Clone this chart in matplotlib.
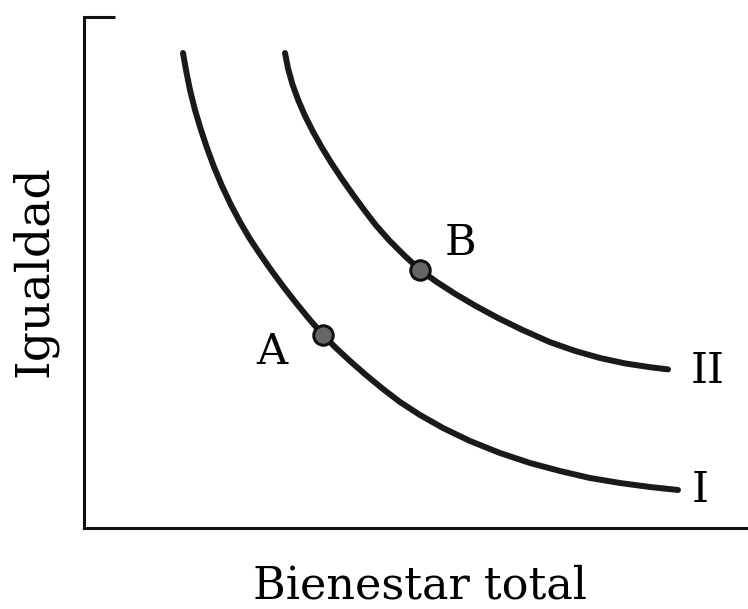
import numpy as np
import matplotlib.pyplot as plt

plt.rcParams['font.family'] = ['DejaVu Serif']

# values (plain units, x 0-664, y 0-511)
# curve I
x_I = [99, 102, 106, 111, 117, 123, 130, 138, 147, 156, 166, 176.6, 187.8, 199.6, 212.1,
       225.2, 239, 252, 266, 282, 299, 316, 336, 359, 386, 416, 446, 476, 506, 536, 566, 594]
y_I = [475, 458, 438, 418, 398, 380, 361, 342, 323, 306, 289, 273, 257, 241, 225,
       209, 193, 180, 167, 153, 139, 126, 113, 100, 87, 75, 65, 57, 50, 45, 41, 38]

# curve II
x_II = [201, 204.1, 208.5, 214.2, 221.0, 228.9, 237.7, 247.3, 257.7, 268.7, 280.2, 291.7, 304.9,
        319.9, 336, 352.8, 371.4, 391.8, 414, 438.6, 465.6, 491, 516, 541, 566, 584]
y_II = [475, 459.3, 443.6, 427.9, 412.2, 396.5, 380.8, 365.1, 349.4, 333.7, 318, 303, 288,
        273, 258, 246, 234, 222, 210, 198, 186, 177.1, 170, 164.6, 160.8, 158.6]

# points A and B
pt_names = ['A', 'B']
pt_x = [239, 336]
pt_y = [193, 258]

curve_names = ['I', 'II']

fig = plt.figure(figsize=(7.48, 6.09), dpi=100)
ax = fig.add_axes([84 / 748, 81 / 609, 1 - 84 / 748, (528 - 17) / 609])
ax.set_xlim(0, 664)
ax.set_ylim(0, 511)

ax.plot(x_I, y_I, color='#1a1a1a', lw=4.3, solid_capstyle='round', solid_joinstyle='round')
ax.plot(x_II, y_II, color='#1a1a1a', lw=4.3, solid_capstyle='round', solid_joinstyle='round')
ax.plot(pt_x, pt_y, 'o', ms=14, mfc='#666666', mec='#111111', mew=2.2)

# point labels
ax.text(pt_x[0] - 51, pt_y[0] - 17, pt_names[0], fontsize=31, ha='center', va='center')
ax.text(pt_x[1] + 40, pt_y[1] + 27, pt_names[1], fontsize=31, ha='center', va='center')
# curve labels
ax.text(x_I[-1] + 22, y_I[-1], curve_names[0], fontsize=31, ha='center', va='center')
ax.text(x_II[-1] + 40, y_II[-1] - 2, curve_names[1], fontsize=31, ha='center', va='center')

for s in ['top', 'right']:
    ax.spines[s].set_visible(False)
for s in ['left', 'bottom']:
    ax.spines[s].set_linewidth(2.2)
    ax.spines[s].set_color('#111111')

ax.set_xticks([])
ax.set_yticks([511])
ax.tick_params(axis='y', direction='in', length=22, width=2.2, color='#111111', labelleft=False)

ax.set_xlabel('Bienestar total', fontsize=32)
ax.xaxis.set_label_coords(0.506, -0.072)
ax.set_ylabel('Igualdad', fontsize=34)
ax.yaxis.set_label_coords(-0.04, 0.503)

fig.savefig('out.png', dpi=100)
